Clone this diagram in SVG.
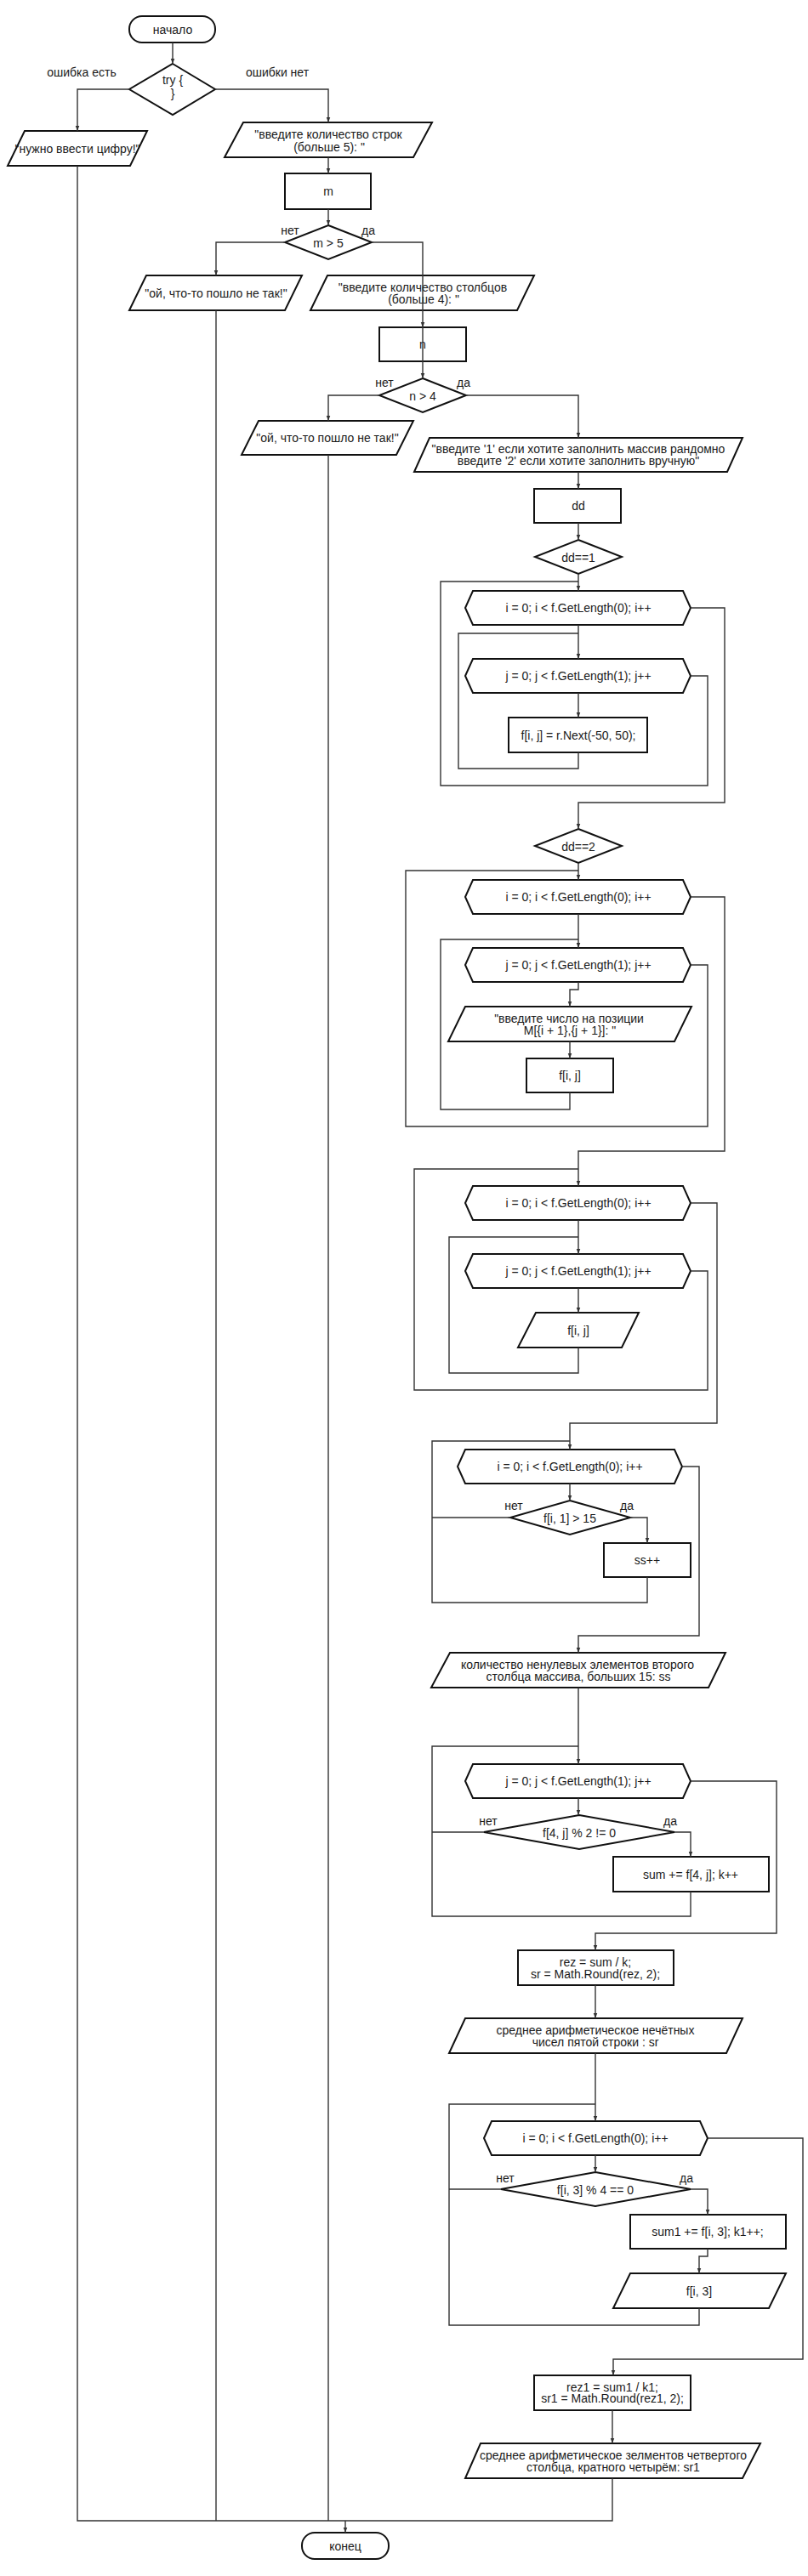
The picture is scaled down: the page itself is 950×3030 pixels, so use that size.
<svg xmlns="http://www.w3.org/2000/svg" width="950" height="3030" viewBox="0 0 950 3030">
<style>
.s{fill:#fff;stroke:#111;stroke-width:2}
.c{fill:none;stroke:#333;stroke-width:1.4}
text{font-family:"Liberation Sans",Arial,sans-serif;font-size:14px;fill:#1a1a1a;text-anchor:middle;dominant-baseline:central}
</style>
<defs>
<marker id="a" viewBox="0 0 8 8" refX="8" refY="4" markerWidth="6" markerHeight="6" markerUnits="userSpaceOnUse" orient="auto"><path d="M0,1 L8,4 L0,7 z" fill="#333"/></marker>
</defs>
<rect width="950" height="3030" fill="#fff"/>
<g id="nodes">
<g id="start"><rect class="s" x="152" y="19" width="101" height="31" rx="15"/><text x="203" y="35">начало</text></g>
<g id="try"><polygon class="s" points="203,75 253,105 203,135 152,105"/><text x="203" y="94">try {</text><text x="203" y="110">}</text></g>
<g id="lbl1"><text x="96" y="85">ошибка есть</text><text x="326" y="85">ошибки нет</text></g>
<g id="p1"><polygon class="s" points="29,154 173,154 153,195 9,195"/><text x="91" y="175">"нужно ввести цифру!"</text></g>
<g id="p2"><polygon class="s" points="286,144 508,144 486,185 264,185"/><text x="386" y="158">"введите количество строк</text><text x="387" y="173">(больше 5): "</text></g>
<g id="m"><rect class="s" x="335" y="204" width="101" height="42"/><text x="386" y="225">m</text></g>
<g id="d1"><polygon class="s" points="386,265 437,285 386,305 335,285"/><text x="386" y="286">m &gt; 5</text><text x="341" y="271">нет</text><text x="433" y="271">да</text></g>
<g id="p3"><polygon class="s" points="172,324 355,324 335,365 152,365"/><text x="254" y="345">"ой, что-то пошло не так!"</text></g>
<g id="p4"><polygon class="s" points="385,324 628,324 608,365 365,365"/><text x="497" y="338">"введите количество столбцов</text><text x="498" y="352">(больше 4): "</text></g>
<g id="n"><rect class="s" x="446" y="385" width="102" height="40"/><text x="497" y="405">n</text></g>
<g id="d2"><polygon class="s" points="497,445 548,465 497,485 446,465"/><text x="497" y="466">n &gt; 4</text><text x="452" y="450">нет</text><text x="545" y="450">да</text></g>
<g id="p5"><polygon class="s" points="304,495 486,495 466,535 284,535"/><text x="385" y="515">"ой, что-то пошло не так!"</text></g>
<g id="p6"><polygon class="s" points="505,515 873,515 855,555 487,555"/><text x="680" y="528">"введите '1' если хотите заполнить массив рандомно</text><text x="680" y="542">введите '2' если хотите заполнить вручную"</text></g>
<g id="dd"><rect class="s" x="628" y="575" width="102" height="40"/><text x="680" y="595">dd</text></g>
<g id="d3"><polygon class="s" points="680,635 731,655 680,675 629,655"/><text x="680" y="656">dd==1</text></g>
<g id="h1"><polygon class="s" points="556,695 803,695 812,715 803,735 556,735 547,715"/><text x="680" y="715">i = 0; i &lt; f.GetLength(0); i++</text></g>
<g id="h2"><polygon class="s" points="556,775 803,775 812,795 803,815 556,815 547,795"/><text x="680" y="795">j = 0; j &lt; f.GetLength(1); j++</text></g>
<g id="r1"><rect class="s" x="598" y="844" width="163" height="41"/><text x="680" y="865">f[i, j] = r.Next(-50, 50);</text></g>
<g id="d4"><polygon class="s" points="680,975 731,995 680,1015 629,995"/><text x="680" y="996">dd==2</text></g>
<g id="h3"><polygon class="s" points="556,1035 803,1035 812,1055 803,1075 556,1075 547,1055"/><text x="680" y="1055">i = 0; i &lt; f.GetLength(0); i++</text></g>
<g id="h4"><polygon class="s" points="556,1115 803,1115 812,1135 803,1155 556,1155 547,1135"/><text x="680" y="1135">j = 0; j &lt; f.GetLength(1); j++</text></g>
<g id="p7"><polygon class="s" points="547,1184 813,1184 793,1225 527,1225"/><text x="669" y="1198">"введите число на позиции</text><text x="670" y="1212">M[{i + 1},{j + 1}]: "</text></g>
<g id="r2"><rect class="s" x="619" y="1245" width="102" height="40"/><text x="670" y="1265">f[i, j]</text></g>
<g id="h5"><polygon class="s" points="556,1395 803,1395 812,1415 803,1435 556,1435 547,1415"/><text x="680" y="1415">i = 0; i &lt; f.GetLength(0); i++</text></g>
<g id="h6"><polygon class="s" points="556,1475 803,1475 812,1495 803,1515 556,1515 547,1495"/><text x="680" y="1495">j = 0; j &lt; f.GetLength(1); j++</text></g>
<g id="p8"><polygon class="s" points="630,1544 751,1544 731,1585 609,1585"/><text x="680" y="1565">f[i, j]</text></g>
<g id="h7"><polygon class="s" points="547,1705 793,1705 802,1725 793,1745 547,1745 538,1725"/><text x="670" y="1725">i = 0; i &lt; f.GetLength(0); i++</text></g>
<g id="d5"><polygon class="s" points="670,1765 741,1785 670,1805 600,1785"/><text x="670" y="1786">f[i, 1] &gt; 15</text><text x="604" y="1771">нет</text><text x="737" y="1771">да</text></g>
<g id="r3"><rect class="s" x="710" y="1815" width="102" height="40"/><text x="761" y="1835">ss++</text></g>
<g id="p9"><polygon class="s" points="529,1944 853,1944 833,1985 507,1985"/><text x="679" y="1958">количество ненулевых элементов второго</text><text x="680" y="1972">столбца массива, больших 15: ss</text></g>
<g id="h8"><polygon class="s" points="556,2075 803,2075 812,2095 803,2115 556,2115 547,2095"/><text x="680" y="2095">j = 0; j &lt; f.GetLength(1); j++</text></g>
<g id="d6"><polygon class="s" points="681,2135 793,2155 681,2175 569,2155"/><text x="681" y="2156">f[4, j] % 2 != 0</text><text x="574" y="2142">нет</text><text x="788" y="2142">да</text></g>
<g id="r4"><rect class="s" x="721" y="2184" width="183" height="41"/><text x="812" y="2205">sum += f[4, j]; k++</text></g>
<g id="r5"><rect class="s" x="609" y="2294" width="183" height="41"/><text x="700" y="2308">rez = sum / k;</text><text x="700" y="2322">sr = Math.Round(rez, 2);</text></g>
<g id="p10"><polygon class="s" points="547,2374 873,2374 854,2415 528,2415"/><text x="700" y="2388">среднее арифметическое нечётных</text><text x="700" y="2402">чисел пятой строки : sr</text></g>
<g id="h9"><polygon class="s" points="578,2495 823,2495 832,2515 823,2535 578,2535 569,2515"/><text x="700" y="2515">i = 0; i &lt; f.GetLength(0); i++</text></g>
<g id="d7"><polygon class="s" points="700,2555 812,2575 700,2595 589,2575"/><text x="700" y="2576">f[i, 3] % 4 == 0</text><text x="594" y="2562">нет</text><text x="807" y="2562">да</text></g>
<g id="r6"><rect class="s" x="741" y="2605" width="183" height="40"/><text x="832" y="2625">sum1 += f[i, 3]; k1++;</text></g>
<g id="p11"><polygon class="s" points="741,2674 924,2674 904,2715 721,2715"/><text x="822" y="2695">f[i, 3]</text></g>
<g id="r7"><rect class="s" x="628" y="2794" width="184" height="41"/><text x="720" y="2808">rez1 = sum1 / k1;</text><text x="720" y="2821">sr1 = Math.Round(rez1, 2);</text></g>
<g id="p12"><polygon class="s" points="565,2874 894,2874 873,2915 547,2915"/><text x="721" y="2888">среднее арифметическое зелментов четвертого</text><text x="721" y="2902">столбца, кратного четырём: sr1</text></g>
<g id="end"><rect class="s" x="355" y="2979" width="102" height="31" rx="15"/><text x="406" y="2995">конец</text></g>
</g>
<g id="connectors">
<path class="c" d="M203,50 V75" marker-end="url(#a)"/>
<path class="c" d="M152,105 H91 V154" marker-end="url(#a)"/>
<path class="c" d="M253,105 H386 V144" marker-end="url(#a)"/>
<path class="c" d="M386,185 V204" marker-end="url(#a)"/>
<path class="c" d="M386,246 V265" marker-end="url(#a)"/>
<path class="c" d="M335,285 H254 V324" marker-end="url(#a)"/>
<path class="c" d="M437,285 H497 V385" marker-end="url(#a)"/>
<path class="c" d="M497,385 V445" marker-end="url(#a)"/>
<path class="c" d="M446,465 H386 V495" marker-end="url(#a)"/>
<path class="c" d="M548,465 H680 V515" marker-end="url(#a)"/>
<path class="c" d="M680,555 V575" marker-end="url(#a)"/>
<path class="c" d="M680,615 V635" marker-end="url(#a)"/>
<path class="c" d="M680,675 V695" marker-end="url(#a)"/>
<path class="c" d="M680,735 V775" marker-end="url(#a)"/>
<path class="c" d="M680,815 V844" marker-end="url(#a)"/>
<path class="c" d="M680,885 V904 H539 V745 H680"/>
<path class="c" d="M812,795 H832 V924 H518 V684 H680"/>
<path class="c" d="M812,715 H852 V944 H680 V975" marker-end="url(#a)"/>
<path class="c" d="M680,1015 V1035" marker-end="url(#a)"/>
<path class="c" d="M680,1075 V1115" marker-end="url(#a)"/>
<path class="c" d="M680,1155 V1164 H670 V1184" marker-end="url(#a)"/>
<path class="c" d="M670,1225 V1245" marker-end="url(#a)"/>
<path class="c" d="M670,1285 V1305 H518 V1105 H680"/>
<path class="c" d="M812,1135 H832 V1325 H477 V1024 H680"/>
<path class="c" d="M812,1055 H852 V1354 H680 V1395" marker-end="url(#a)"/>
<path class="c" d="M680,1435 V1475" marker-end="url(#a)"/>
<path class="c" d="M680,1515 V1544" marker-end="url(#a)"/>
<path class="c" d="M680,1585 V1615 H528 V1455 H680"/>
<path class="c" d="M812,1495 H832 V1635 H487 V1375 H680"/>
<path class="c" d="M812,1415 H843 V1674 H670 V1705" marker-end="url(#a)"/>
<path class="c" d="M670,1745 V1765" marker-end="url(#a)"/>
<path class="c" d="M741,1785 H761 V1815" marker-end="url(#a)"/>
<path class="c" d="M600,1785 H508"/>
<path class="c" d="M761,1855 V1885 H508 V1695 H670"/>
<path class="c" d="M802,1725 H822 V1924 H680 V1944" marker-end="url(#a)"/>
<path class="c" d="M680,1985 V2075" marker-end="url(#a)"/>
<path class="c" d="M680,2115 V2135" marker-end="url(#a)"/>
<path class="c" d="M793,2155 H812 V2184" marker-end="url(#a)"/>
<path class="c" d="M569,2155 H508"/>
<path class="c" d="M812,2225 V2254 H508 V2054 H680"/>
<path class="c" d="M812,2095 H913 V2274 H700 V2294" marker-end="url(#a)"/>
<path class="c" d="M700,2335 V2374" marker-end="url(#a)"/>
<path class="c" d="M700,2415 V2495" marker-end="url(#a)"/>
<path class="c" d="M700,2535 V2555" marker-end="url(#a)"/>
<path class="c" d="M812,2575 H832 V2605" marker-end="url(#a)"/>
<path class="c" d="M589,2575 H528"/>
<path class="c" d="M832,2645 V2654 H822 V2674" marker-end="url(#a)"/>
<path class="c" d="M822,2715 V2735 H528 V2475 H700"/>
<path class="c" d="M832,2515 H944 V2775 H721 V2794" marker-end="url(#a)"/>
<path class="c" d="M720,2835 V2874" marker-end="url(#a)"/>
<path class="c" d="M91,195 V2965 H720 V2915"/>
<path class="c" d="M254,365 V2965"/>
<path class="c" d="M386,535 V2965"/>
<path class="c" d="M406,2965 V2979" marker-end="url(#a)"/>
</g>
</svg>
